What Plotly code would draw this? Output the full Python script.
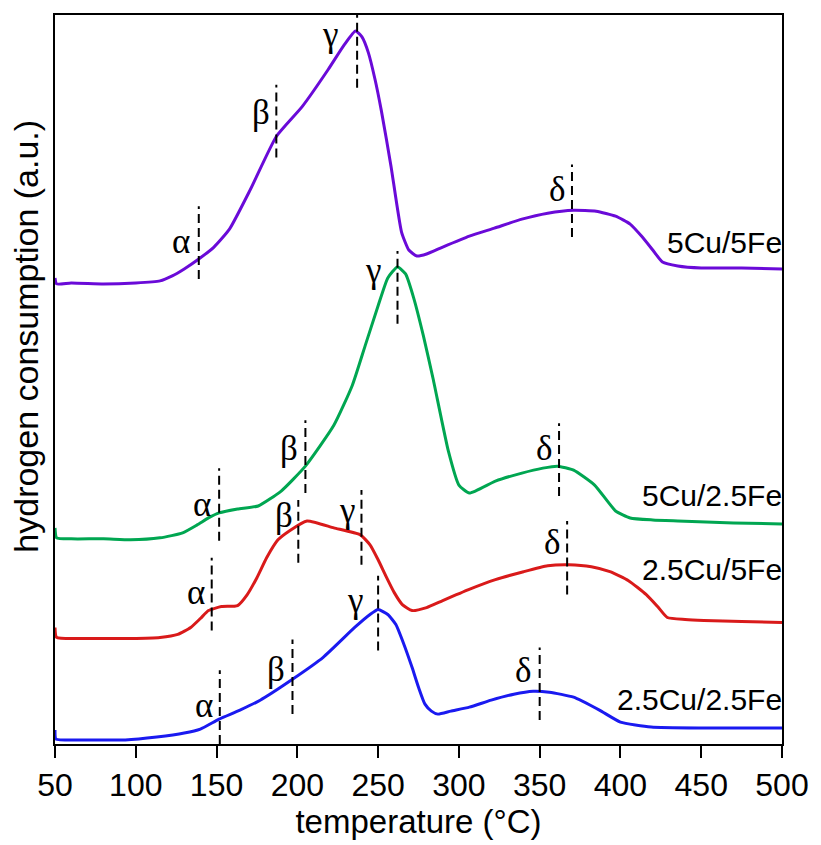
import plotly.graph_objects as go

# ---------------- data (temperature in °C, signal in a.u.) ----------------
t_5cu5fe = [50, 51, 60, 80, 100, 115, 122.6, 130, 139, 148.4, 158, 171, 187, 203, 219, 229, 236, 240, 244, 248, 252, 258, 264.5, 269, 274, 280, 290, 306.5, 322, 339, 355, 371, 385, 397, 406, 413, 420, 426, 435.5, 450, 475, 500]
s_5cu5fe = [468, 462, 463, 462, 463, 465, 470, 477, 487, 499, 517, 557, 610, 640, 677, 702, 716, 710, 694, 668, 636, 580, 514, 496, 490, 492, 499, 510, 518, 527, 533, 536, 535, 530, 522, 510, 496, 484, 480, 478, 478, 477]

t_5cu25fe = [50, 51, 60, 80, 96.8, 115, 129, 138, 145, 151.6, 163, 175.8, 190, 205, 222.6, 234, 242, 250, 256, 262, 267, 272, 278, 284, 293.5, 300, 306.5, 322.6, 339, 352, 361, 371, 384, 397, 406, 420, 435.5, 470, 500]
s_5cu25fe = [217, 207, 206, 206, 205, 207, 212, 220, 227, 232, 236, 239, 254, 279, 320, 360, 400, 440, 468, 479, 472, 448, 410, 367, 294, 260, 252, 264, 272, 277, 279, 275, 260, 234, 227, 225, 224, 222, 221]

t_25cu5fe = [50, 51, 70, 96.8, 115, 126, 134, 140, 145, 153, 163, 169, 175, 181, 188, 195, 206, 222.6, 239, 245, 250, 255, 260, 265, 271, 280, 290, 306, 322.6, 340, 355, 368, 382, 393.5, 405, 416, 423, 429, 440, 451.6, 475, 500]
s_25cu5fe = [117, 107, 106, 106, 107, 110, 117, 126, 134, 138, 139, 150, 167, 187, 205, 214, 224, 217, 210, 200, 185, 168, 152, 140, 134, 137, 144, 155, 165, 173, 179, 180, 178, 173, 164, 150, 138, 127, 125, 124, 123, 122]

t_25cu25fe = [50, 50.6, 65, 80.6, 93.5, 113, 130, 140, 151.6, 164.5, 177, 197, 216, 235.5, 245, 250, 256, 261, 266, 271, 275, 279, 283, 287, 295, 306.5, 320, 334, 346, 356, 371, 387, 400, 419, 450, 500]
s_25cu25fe = [14, 5, 4, 4, 4, 7, 11, 15, 25, 34, 44, 65, 87, 117, 130, 135, 130, 120, 100, 77, 57, 40, 33, 30, 33, 37, 44, 50, 53, 52, 47, 34, 22, 17, 16, 16]

sample_names = ["5Cu/5Fe", "5Cu/2.5Fe", "2.5Cu/5Fe", "2.5Cu/2.5Fe"]
sample_colors = ["#6A0AD8", "#00A651", "#D91A1A", "#1A1AF0"]
# vertical level of each sample name (right end at 500 °C), a.u.
name_levels = [504, 250, 175, 45]

# peak markers: temperature, lower and upper signal of the dashed guide
peak_letters = ["α", "β", "γ", "δ"]
peak_t = [[139, 187, 237, 370], [151.6, 205, 262, 362], [147, 200.6, 239.7, 367], [152, 197, 250, 350]]
peak_lo = [[467, 589, 659, 509], [204, 252, 422, 249], [114, 182, 180, 150], [0, 30, 94, 24]]
peak_hi = [[540, 662, 734, 582], [277, 325, 495, 322], [187, 245, 255, 224], [74, 105, 169, 97]]
# letter label positions
label_t = [[128, 177.4, 220, 361], [141, 195, 247, 353], [137, 192, 230.6, 358], [142, 187, 235.5, 340]]
label_s = [[505, 634, 712, 557], [240, 297, 475, 297], [152, 229, 234, 202], [39, 75, 144, 74]]

curves_t = [t_5cu5fe, t_5cu25fe, t_25cu5fe, t_25cu25fe]
curves_s = [s_5cu5fe, s_5cu25fe, s_25cu5fe, s_25cu25fe]

x_ticks = [50, 100, 150, 200, 250, 300, 350, 400, 450, 500]

# ---------------- figure ----------------
fig = go.Figure()
for i in range(4):
    fig.add_trace(go.Scatter(
        x=curves_t[i], y=curves_s[i], mode="lines",
        line=dict(color=sample_colors[i], width=3, shape="spline", smoothing=0.5),
        showlegend=False, hoverinfo="skip"))
    for j in range(4):
        fig.add_trace(go.Scatter(
            x=[peak_t[i][j], peak_t[i][j]], y=[peak_lo[i][j], peak_hi[i][j]],
            mode="lines", line=dict(color="black", width=2, dash="9px,5px"),
            showlegend=False, hoverinfo="skip"))
        fig.add_annotation(x=label_t[i][j], y=label_s[i][j], text=peak_letters[j],
                           showarrow=False, xanchor="center", yanchor="middle",
                           font=dict(family="Liberation Serif", size=35, color="black"))
    fig.add_annotation(x=500, y=name_levels[i], text=sample_names[i], showarrow=False,
                       xanchor="right", yanchor="middle", xshift=2,
                       font=dict(family="Liberation Sans", size=30, color="black"))

fig.add_annotation(xref="paper", yref="paper", x=-0.04, y=0.56,
                   text="hydrogen consumption (a.u.)", textangle=-90,
                   showarrow=False, xanchor="center", yanchor="middle",
                   font=dict(family="Liberation Sans", size=34, color="black"))

fig.update_layout(
    width=821, height=845,
    margin=dict(l=55, r=32, t=15, b=98),
    paper_bgcolor="white", plot_bgcolor="white",
    font=dict(family="Liberation Sans", color="black"),
    xaxis=dict(range=[50, 500], tickvals=x_ticks, ticks="outside", ticklen=12,
               tickwidth=1.5, tickcolor="black", showline=True, linecolor="black",
               linewidth=2, mirror=True, showgrid=False, zeroline=False,
               tickfont=dict(size=32, family="Liberation Sans"),
               title=dict(text="temperature (°C)", font=dict(size=33, family="Liberation Sans"),
                          standoff=6)),
    yaxis=dict(range=[0, 732], showticklabels=False, ticks="", showline=True,
               linecolor="black", linewidth=2, mirror=True, showgrid=False,
               zeroline=False),
)

fig.write_html("out.html")
